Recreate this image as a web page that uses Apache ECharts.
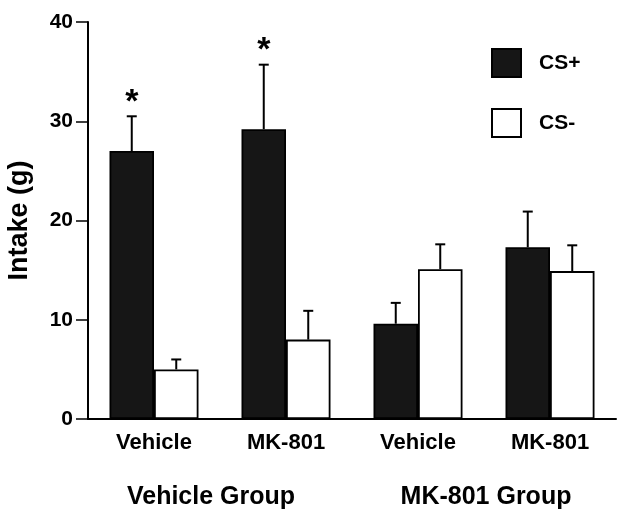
<!DOCTYPE html>
<html>
<head>
<meta charset="utf-8">
<script src="https://cdn.jsdelivr.net/npm/echarts@6/dist/echarts.min.js"></script>
<style>html,body{margin:0;padding:0;background:#fff;}#c{width:628px;height:521px;}</style>
</head>
<body>
<div id="c"></div>
<script>
var categories = ['Vehicle', 'MK-801', 'Vehicle', 'MK-801'];
var groupLabels = ['Vehicle Group', 'MK-801 Group'];
var csPlus = [27.0, 29.2, 9.6, 17.3];
var csPlusErr = [30.5, 35.7, 11.7, 20.9];
var csMinus = [5.0, 8.0, 15.1, 14.9];
var csMinusErr = [6.0, 10.9, 17.6, 17.5];
var csPlusSig = [1, 1, 0, 0];
var yTicks = [0, 10, 20, 30, 40];

var FONT = '"Liberation Sans", Arial, Helvetica, sans-serif';
var BAR_W = 44.5;

function errSeries(name, vals, tops, sig, offset) {
  var data = vals.map(function (v, i) { return [i, v, tops[i], sig ? sig[i] : 0]; });
  return {
    type: 'custom',
    name: name + ' err',
    z: 5,
    silent: true,
    data: data,
    encode: { x: 0, y: [1, 2] },
    renderItem: function (params, api) {
      var i = api.value(0);
      var p0 = api.coord([i, api.value(1)]);
      var p1 = api.coord([i, api.value(2)]);
      var x = p0[0] + offset;
      var children = [
        { type: 'line', shape: { x1: x, y1: p0[1], x2: x, y2: p1[1] }, style: { stroke: '#000', lineWidth: 2 } },
        { type: 'line', shape: { x1: x - 5, y1: p1[1], x2: x + 5, y2: p1[1] }, style: { stroke: '#000', lineWidth: 2 } }
      ];
      if (api.value(3)) {
        children.push({
          type: 'text',
          style: { text: '*', x: x, y: p1[1] + 3, textAlign: 'center', textVerticalAlign: 'bottom', font: 'bold 34px ' + FONT, fill: '#000' }
        });
      }
      return { type: 'group', children: children };
    }
  };
}

var chart = echarts.init(document.getElementById('c'), null, { renderer: 'canvas' });
chart.setOption({
  animation: false,
  backgroundColor: '#fff',
  grid: { left: 88, right: 12, top: 22, bottom: 102, containLabel: false, outerBoundsMode: 'none' },
  legend: {
    data: ['CS+', 'CS-'],
    orient: 'vertical',
    left: 491, top: 48,
    padding: 0,
    icon: 'rect',
    itemWidth: 29, itemHeight: 28,
    itemGap: 30,
    textStyle: { fontFamily: FONT, fontWeight: 'bold', fontSize: 21, color: '#000', padding: [0, 0, 0, 13] }
  },
  xAxis: {
    type: 'category',
    data: categories,
    axisLine: { lineStyle: { color: '#000', width: 2 } },
    axisTick: { length: 11, lineStyle: { color: '#000', width: 1.5 } },
    axisLabel: { margin: 13, fontFamily: FONT, fontWeight: 'bold', fontSize: 22, color: '#000' }
  },
  yAxis: {
    type: 'value', min: yTicks[0], max: yTicks[yTicks.length - 1], interval: 10,
    splitLine: { show: false },
    axisLine: { show: true, lineStyle: { color: '#000', width: 2 } },
    axisTick: { show: true, length: 12, lineStyle: { color: '#000', width: 1.5 } },
    axisLabel: { margin: 15, fontFamily: FONT, fontWeight: 'bold', fontSize: 21, color: '#000' },
    name: 'Intake (g)',
    nameLocation: 'middle',
    nameGap: 55,
    nameTextStyle: { fontFamily: FONT, fontWeight: 'bold', fontSize: 27, color: '#000' }
  },
  graphic: [
    { type: 'text', style: { text: groupLabels[0], font: 'bold 25px ' + FONT, fill: '#000', textAlign: 'center', textVerticalAlign: 'middle' }, x: 211, y: 497 },
    { type: 'text', style: { text: groupLabels[1], font: 'bold 25px ' + FONT, fill: '#000', textAlign: 'center', textVerticalAlign: 'middle' }, x: 486, y: 497 }
  ],
  series: [
    { name: 'CS+', type: 'bar', data: csPlus, barWidth: BAR_W, barGap: '0%',
      itemStyle: { color: '#161616', borderColor: '#000', borderWidth: 1.8 } },
    { name: 'CS-', type: 'bar', data: csMinus, barWidth: BAR_W, barGap: '0%',
      itemStyle: { color: '#fff', borderColor: '#000', borderWidth: 1.8 } },
    errSeries('CS+', csPlus, csPlusErr, csPlusSig, -BAR_W / 2),
    errSeries('CS-', csMinus, csMinusErr, null, BAR_W / 2)
  ]
});
</script>
</body>
</html>
